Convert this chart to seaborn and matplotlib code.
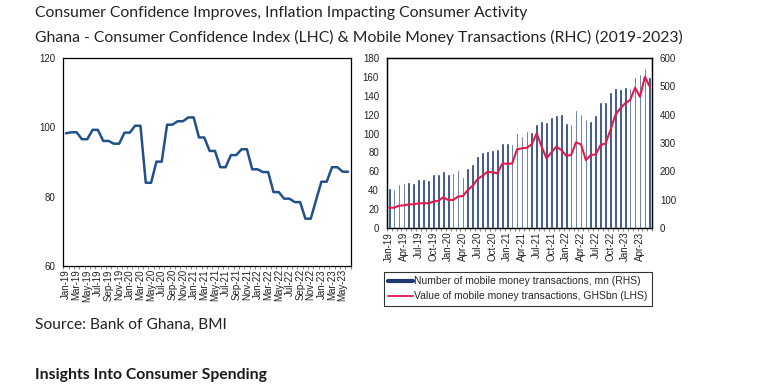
import numpy as np
import pandas as pd
import seaborn as sns
import matplotlib.pyplot as plt
from matplotlib.lines import Line2D

# monthly labels Jan-19 .. Jun-23
months = pd.date_range('2019-01-01', '2023-06-01', freq='MS').strftime('%b-%y').tolist()

# consumer confidence index (LHC)
cci = [98.3, 98.6, 98.6, 96.6, 96.6, 99.3, 99.3, 96.1, 96.1, 95.3, 95.3, 98.5, 98.5,
       100.5, 100.5, 84.0, 84.0, 90.1, 90.1, 100.8, 100.8, 101.8, 101.8, 102.9, 102.9,
       97.1, 97.1, 93.2, 93.2, 88.5, 88.5, 92.0, 92.0, 93.7, 93.7, 87.9, 87.9, 87.1, 87.1,
       81.3, 81.3, 79.4, 79.4, 78.4, 78.4, 73.6, 73.6, 79.0, 84.3, 84.3, 88.5, 88.5,
       87.2, 87.2]

# number of mobile money transactions, mn (RHS)
mm_count = [143, 138, 155, 158, 163, 159, 174, 174, 170, 190, 190, 201, 191, 194,
            205, 181, 213, 226, 253, 267, 272, 275, 280, 299, 300, 295, 335, 323,
            343, 340, 367, 378, 375, 390, 398, 402, 370, 367, 415, 403, 383, 378,
            398, 445, 445, 480, 492, 489, 496, 492, 531, 543, 563, 531]

# value of mobile money transactions, GHSbn (LHS)
mm_value = [21.7, 21.7, 23.8, 24.2, 25.3, 25.3, 26.4, 26.4, 26.4, 28.1, 29.1, 32.7,
            29.9, 29.9, 33.4, 34.1, 40.4, 45.0, 52.0, 55.5, 59.7, 59.0, 58.0, 68.2,
            68.2, 68.2, 83.3, 84.4, 85.0, 88.6, 100.2, 86.1, 73.8, 80.2, 86.1, 82.6,
            76.6, 77.3, 90.7, 88.6, 72.0, 77.3, 78.0, 87.9, 89.6, 103.7, 119.5, 126.6,
            131.9, 135.3, 148.3, 138.8, 159.9, 149.4]

idx = np.arange(len(months))
df = pd.DataFrame({'idx': idx, 'month': months, 'cci': cci,
                   'count': mm_count, 'value': mm_value})

sns.set_theme(style='white')
plt.rcParams['font.family'] = ['Liberation Sans', 'DejaVu Sans']

navy = '#1b3970'
blue = '#22508a'
red = '#e01a4a'

fig = plt.figure(figsize=(7.7, 3.87), dpi=100)

# left chart - consumer confidence
ax1 = fig.add_axes([0.0822, 0.3134, 0.3732, 0.5359])
sns.lineplot(data=df, x='idx', y='cci', ax=ax1, color=blue, linewidth=1.8)
ax1.set_xlim(-0.5, 53.5)
ax1.set_ylim(60, 120)
ax1.set_yticks([60, 80, 100, 120])
ax1.set_xticks(idx[::2])
ax1.set_xticklabels(months[::2], rotation=90, fontsize=7)
ax1.set_xticks(np.arange(-0.5, 54, 1), minor=True)
ax1.set_xlabel('')
ax1.set_ylabel('')

# right chart - mobile money
ax2 = fig.add_axes([0.5022, 0.4101, 0.3449, 0.4408])
ax3 = ax2.twinx()
sns.barplot(data=df, x='idx', y='count', ax=ax3, color=navy, width=0.55,
            saturation=1)
sns.lineplot(data=df, x='idx', y='value', ax=ax2, color=red, linewidth=1.5)
ax2.set_zorder(ax3.get_zorder() + 1)
ax2.patch.set_visible(False)
ax2.set_ylim(0, 180)
ax2.set_yticks(range(0, 181, 20))
ax3.set_ylim(0, 600)
ax3.set_yticks(range(0, 601, 100))
ax2.set_xlim(-0.5, 53.5)
ax2.set_xticks(idx[::3])
ax2.set_xticklabels(months[::3], rotation=90, fontsize=7)
ax2.set_xticks(np.arange(-0.5, 54, 1), minor=True)
for a in (ax2, ax3):
    a.set_xlabel('')
    a.set_ylabel('')

for a in (ax1, ax2, ax3):
    for s in a.spines.values():
        s.set_visible(True)
        s.set_color('black')
        s.set_linewidth(0.9)
    a.tick_params(axis='y', length=0, pad=5.5, labelsize=7, colors='#222222')
    a.tick_params(axis='x', which='major', length=0, pad=2.5, colors='#222222')
    a.tick_params(axis='x', which='minor', bottom=True, length=2, width=0.5,
                  color='#555555')
    a.grid(False)

handles = [Line2D([], [], color=navy, linewidth=3),
           Line2D([], [], color=red, linewidth=1.3)]
labels = ['Number of mobile money transactions, mn (RHS)',
          'Value of mobile money transactions, GHSbn (LHS)']
leg = fig.legend(handles, labels, loc='upper left',
                 bbox_to_anchor=(384 / 770, 1 - 272 / 387), fontsize=7.5,
                 frameon=True, fancybox=False, edgecolor='black',
                 handlelength=2.4, handletextpad=0.1, borderpad=0.4,
                 labelspacing=0.5, borderaxespad=0)
leg.get_frame().set_linewidth(0.8)

# titles and notes
tfont = ['Lato', 'DejaVu Sans']
fig.text(35 / 770, 1 - 13 / 387,
         'Consumer Confidence Improves, Inflation Impacting Consumer Activity',
         va='center', ha='left', fontsize=11.3, family=tfont, color='#222222')
fig.text(35 / 770, 1 - 37 / 387,
         'Ghana - Consumer Confidence Index (LHC) & Mobile Money Transactions (RHC) (2019-2023)',
         va='center', ha='left', fontsize=11.3, family=tfont, color='#222222')
fig.text(35 / 770, 1 - 325 / 387, 'Source: Bank of Ghana, BMI',
         va='center', ha='left', fontsize=11.2, family=tfont, color='#222222')
fig.text(35 / 770, 1 - 375 / 387, 'Insights Into Consumer Spending',
         va='center', ha='left', fontsize=11.3, family=tfont, weight='bold',
         color='#1a1a1a')

fig.savefig('out.png', dpi=100)
